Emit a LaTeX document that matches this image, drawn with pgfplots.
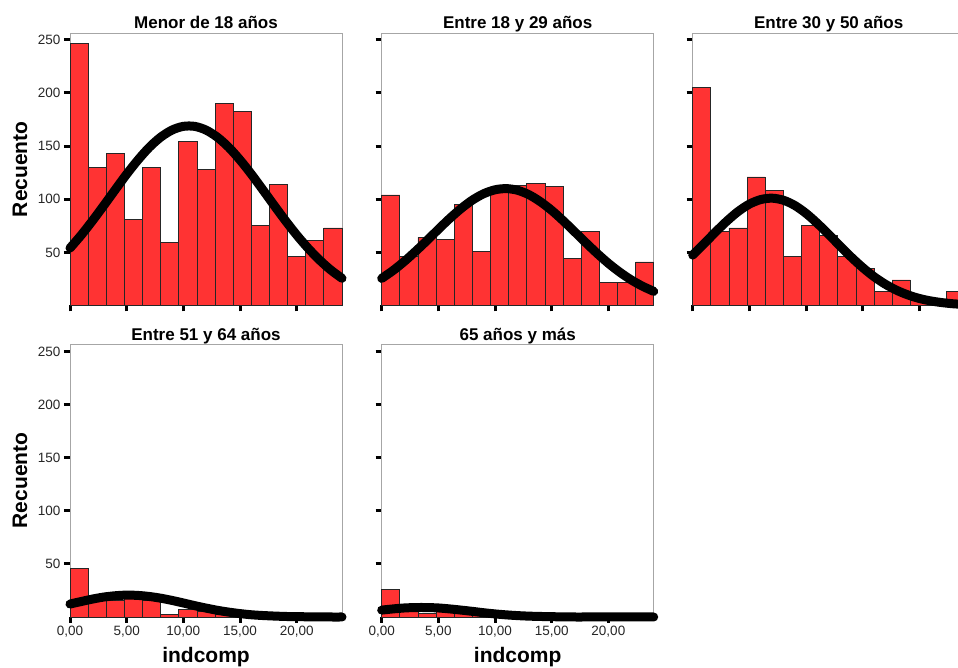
\documentclass[border=0pt]{standalone}
\usepackage{fontspec}
\setmainfont{Liberation Sans}
\usepackage{pgfplots}
\pgfplotsset{compat=1.18}
\definecolor{barred}{RGB}{255,51,51}
\pgfplotsset{
  panel/.style={
    scale only axis, width=272pt, height=272pt,
    xmin=0, xmax=24, ymin=0, ymax=256,
    clip=false,
    axis line style={draw=gray!70, line width=1pt},
    xtick={0,5,10,15,20}, ytick={50,100,150,200,250},
    tick align=outside, tick pos=left,
    major tick length=6pt,
    tick style={black, line width=3pt},
    tick label style={font=\fontsize{13.5}{16}\selectfont, text=black!85},
    /pgf/number format/assume math mode=true,
    every axis title/.style={font=\bfseries\fontsize{17}{20}\selectfont, at={(0.5,1)}, anchor=base, yshift=4.5pt},
  },
  nox/.style={xticklabels={}},
  noy/.style={yticklabels={}},
  withx/.style={xticklabels={{0,00},{5,00},{10,00},{15,00},{20,00}}},
  bars/.style={ybar interval, fill=barred, draw=black!85, line width=0.8pt},
  curve/.style={black, line width=9pt, line cap=round, line join=round, smooth},
}
\begin{document}
\begin{tikzpicture}
% Panel 1
\begin{axis}[panel, nox, at={(70pt,362.5pt)}, title={Menor de 18 años}]
\addplot[bars] coordinates {(0,247) (1.6,130) (3.2,143) (4.8,81) (6.4,130) (8,59) (9.6,154) (11.2,128) (12.8,190) (14.4,183) (16,75) (17.6,114) (19.2,46) (20.8,61) (22.4,73) (24,0)};
\addplot[curve] coordinates {(0,54.0) (1,66.4) (2,80.0) (3,94.4) (4,109.1) (5,123.6) (6,137.0) (7,148.9) (8,158.4) (9,165.1) (10,168.6) (11,168.6) (12,165.1) (13,158.4) (14,148.9) (15,137.0) (16,123.6) (17,109.1) (18,94.4) (19,80.0) (20,66.4) (21,54.0) (22,43.0) (23,33.5) (24,25.6)};
\end{axis}
% Panel 2
\begin{axis}[panel, nox, noy, at={(381.7pt,362.5pt)}, title={Entre 18 y 29 años}]
\addplot[bars] coordinates {(0,104) (1.6,46) (3.2,64) (4.8,62) (6.4,95) (8,51) (9.6,111) (11.2,113) (12.8,115) (14.4,112) (16,44) (17.6,70) (19.2,22) (20.8,22) (22.4,41) (24,0)};
\addplot[curve] coordinates {(0,25.5) (1,32.9) (2,41.5) (3,51.1) (4,61.2) (5,71.7) (6,81.9) (7,91.2) (8,99.2) (9,105.2) (10,108.9) (11,110.0) (12,108.4) (13,104.2) (14,97.7) (15,89.5) (16,79.9) (17,69.6) (18,59.2) (19,49.1) (20,39.7) (21,31.4) (22,24.2) (23,18.2) (24,13.3)};
\end{axis}
% Panel 3
\begin{axis}[panel, nox, noy, at={(692.7pt,362.5pt)}, title={Entre 30 y 50 años}]
\addplot[bars] coordinates {(0,205) (1.6,70) (3.2,73) (4.8,121) (6.4,108) (8,46) (9.6,75) (11.2,66) (12.8,46) (14.4,35) (16,13) (17.6,24) (19.2,5) (20.8,2) (22.4,13) (24,0)};
\addplot[curve] coordinates {(0,47.4) (1,58.1) (2,69.0) (3,79.3) (4,88.4) (5,95.4) (6,99.7) (7,101.0) (8,99.1) (9,94.2) (10,86.7) (11,77.3) (12,66.8) (13,56.0) (14,45.4) (15,35.7) (16,27.1) (17,20.0) (18,14.3) (19,9.9) (20,6.6) (21,4.3) (22,2.7) (23,1.6) (24,1.0)};
\end{axis}
% Panel 4
\begin{axis}[panel, withx, at={(70pt,51pt)}, title={Entre 51 y 64 años}]
\addplot[bars] coordinates {(0,46) (1.6,19) (3.2,16) (4.8,17.5) (6.4,16) (8,2.5) (9.6,7.5) (11.2,5.6) (12.8,2.5) (14.4,1) (16,0) (17.6,0) (19.2,0) (20.8,0) (22.4,0) (24,0)};
\addplot[curve] coordinates {(0,12.2) (1,14.6) (2,16.9) (3,18.8) (4,20.0) (5,20.6) (6,20.3) (7,19.3) (8,17.7) (9,15.6) (10,13.2) (11,10.7) (12,8.4) (13,6.3) (14,4.6) (15,3.2) (16,2.1) (17,1.4) (18,0.9) (19,0.5) (20,0.3) (21,0.2) (22,0.1) (23,0) (24,0)};
\end{axis}
% Panel 5
\begin{axis}[panel, withx, noy, at={(381.7pt,51pt)}, title={65 años y más}]
\addplot[bars] coordinates {(0,26) (1.6,12) (3.2,3.5) (4.8,8) (6.4,5) (8,2) (9.6,1) (11.2,0) (12.8,0) (14.4,0) (16,0) (17.6,0) (19.2,0) (20.8,0) (22.4,0) (24,0)};
\addplot[curve] coordinates {(0,6.5) (1,7.6) (2,8.5) (3,8.9) (4,8.9) (5,8.5) (6,7.6) (7,6.5) (8,5.3) (9,4.0) (10,2.9) (11,2.0) (12,1.3) (13,0.8) (14,0.5) (15,0.3) (16,0.1) (17,0) (18,0) (19,0) (20,0) (21,0) (22,0) (23,0) (24,0)};
\end{axis}
\node[rotate=90, font=\bfseries\fontsize{21}{24}\selectfont] at (20pt,498.75pt) {Recuento};
\node[rotate=90, font=\bfseries\fontsize{21}{24}\selectfont] at (20pt,187.5pt) {Recuento};
\node[anchor=base, font=\bfseries\fontsize{21}{24}\selectfont] at (206pt,5pt) {indcomp};
\node[anchor=base, font=\bfseries\fontsize{21}{24}\selectfont] at (517.7pt,5pt) {indcomp};
\pgfresetboundingbox
\path[use as bounding box] (0pt,0pt) rectangle (958pt,668pt);
\end{tikzpicture}
\end{document}
